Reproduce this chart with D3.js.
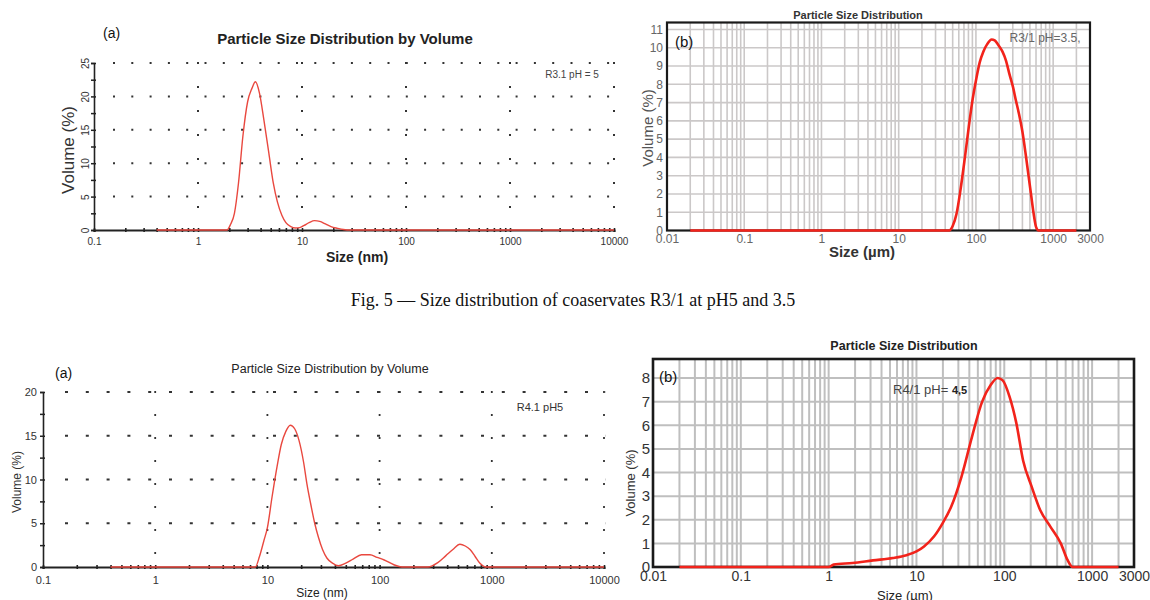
<!DOCTYPE html>
<html>
<head>
<meta charset="utf-8">
<script src="https://cdn.jsdelivr.net/npm/d3@7"></script>
<style>
  body { margin: 0; background: #fff; }
  svg { display: block; font-family: Arial, "Liberation Sans", sans-serif; }
</style>
</head>
<body>
<svg id="fig" width="1150" height="600"></svg>
<script>
// ---- data ----

// Fig 5 (a): R3.1 pH = 5, DLS volume distribution
const p1Size = [0.4, 1.9, 2.05, 2.24, 2.45, 2.7, 3.0, 3.3, 3.57, 3.9, 4.3, 4.8, 5.3, 5.8, 6.4, 7.0, 7.8, 8.6, 9.5, 10.5, 11.7, 13.2, 14.8, 16.8, 19, 22, 25, 29, 10000];
const p1Vol = [0, 0, 0.8, 2.5, 7, 14, 19.2, 21.2, 22.2, 20.5, 16.5, 11.5, 7, 4.2, 2.2, 1.1, 0.5, 0.3, 0.35, 0.7, 1.1, 1.4, 1.3, 0.9, 0.5, 0.25, 0.08, 0, 0];

// Fig 5 (b): R3/1 pH 3.5, laser diffraction
const p2Size = [0.02, 45, 50, 56, 63, 72, 81, 90, 100, 112, 125, 140, 160, 175, 195, 220, 245, 270, 300, 330, 360, 400, 440, 480, 520, 560, 600, 650, 2000];
const p2Vol = [0, 0, 0.25, 0.9, 2.2, 4.0, 5.7, 7.1, 8.2, 9.2, 9.8, 10.2, 10.45, 10.4, 10.15, 9.8, 9.3, 8.6, 7.9, 7.1, 6.4, 5.4, 4.2, 3.0, 1.9, 0.9, 0.2, 0, 0];

// Fig 6 (a): R4.1 pH5, DLS volume distribution
const p3Size = [0.4, 7.8, 8.5, 9.3, 10, 11, 12.2, 13.3, 14.6, 16, 17.5, 19.1, 21, 22.5, 24.5, 26.4, 28.5, 31, 34, 38, 43, 50, 58, 69, 82, 95, 110, 134, 158, 270, 330, 390, 450, 520, 580, 640, 710, 780, 885, 10000];
const p3Vol = [0, 0, 1.2, 3, 4.5, 8, 11.5, 14, 15.5, 16.2, 15.8, 14.5, 12, 9.5, 7, 5, 3.4, 2, 1, 0.45, 0.15, 0.45, 0.9, 1.4, 1.4, 1.1, 0.8, 0.26, 0, 0, 0.5, 1.3, 2.0, 2.6, 2.4, 2.0, 1.2, 0.45, 0, 0];

// Fig 6 (b): R4/1 pH 4,5, laser diffraction
const p4Size = [0.02, 1.0, 1.14, 1.87, 3.2, 5.4, 7.7, 10, 12.2, 15.9, 19.9, 24.9, 32.6, 42.8, 56, 70, 84, 96, 115, 137, 164, 205, 257, 336, 440, 525, 600, 2000];
const p4Vol = [0, 0, 0.1, 0.17, 0.28, 0.38, 0.5, 0.66, 0.87, 1.3, 1.86, 2.56, 3.83, 5.5, 7.0, 7.7, 8.0, 7.9, 7.2, 6.1, 4.5, 3.4, 2.4, 1.7, 1.0, 0.3, 0, 0];

// tick labels
const nmTicks = [0.1, 1, 10, 100, 1000, 10000];
const umTicks = [0.01, 0.1, 1, 10, 100, 1000, 3000];
const p1YTicks = [0, 5, 10, 15, 20, 25];
const p2YTicks = [0, 1, 2, 3, 4, 5, 6, 7, 8, 9, 10, 11];
const p3YTicks = [0, 5, 10, 15, 20];
const p4YTicks = [0, 1, 2, 3, 4, 5, 6, 7, 8];

const svg = d3.select('#fig');

// 1..9 x 10^k between lo and hi
function logSteps(lo, hi) {
  const out = [];
  for (let e = Math.floor(Math.log10(lo)); e <= Math.ceil(Math.log10(hi)); e += 1) {
    for (let m = 1; m < 10; m += 1) {
      const v = m * Math.pow(10, e);
      if (v >= lo * 0.9999 && v <= hi * 1.0001) out.push(v);
    }
  }
  return out;
}

function txt(g, str, x, y, size, opts = {}) {
  const t = g.append('text').attr('x', x).attr('y', y)
    .attr('font-size', size)
    .attr('fill', opts.fill || '#222')
    .attr('font-weight', opts.weight || 'normal')
    .attr('text-anchor', opts.anchor || 'start')
    .text(str);
  if (opts.rotate) t.attr('transform', `rotate(-90,${x},${y})`);
  return t;
}

// Malvern Zetasizer style panel (dotted grid, open axes)
function drawDls(o) {
  const g = svg.append('g');
  const yMax = o.yTicks[o.yTicks.length - 1];
  const x = d3.scaleLog().domain([nmTicks[0], nmTicks[nmTicks.length - 1]]).range([o.left, o.right]);
  const y = d3.scaleLinear().domain([0, yMax]).range([o.bottom, o.top]);

  g.append('g').selectAll('line').data(o.yTicks.slice(1)).join('line')
    .attr('x1', o.left + o.hStart).attr('x2', o.right + 2)
    .attr('y1', d => y(d)).attr('y2', d => y(d))
    .attr('stroke', '#333').attr('stroke-width', o.dotW)
    .attr('stroke-dasharray', o.hDash);
  g.append('g').selectAll('line').data(nmTicks.slice(1)).join('line')
    .attr('x1', d => x(d)).attr('x2', d => x(d))
    .attr('y1', o.top - 1).attr('y2', o.bottom - 6)
    .attr('stroke', '#333').attr('stroke-width', o.dotW)
    .attr('stroke-dasharray', o.vDash);

  const yAxis = g.append('g').attr('transform', `translate(${o.left},0)`)
    .call(d3.axisLeft(y).tickValues(d3.range(0, yMax + 0.1, 2.5)).tickSize(3)
      .tickFormat(d => (o.yTicks.includes(d) ? d : '')));
  yAxis.select('.domain').attr('stroke', '#222').attr('stroke-width', 1.6);
  yAxis.selectAll('.tick line').attr('x1', 2).attr('x2', -3).attr('stroke', '#222').attr('stroke-width', 1.5);
  yAxis.selectAll('text').attr('font-size', o.tickFont).attr('fill', '#333');
  if (o.rotYLabels) {
    yAxis.selectAll('text').attr('transform', 'rotate(-90)')
      .attr('x', 0).attr('y', -5).attr('dy', 0).attr('text-anchor', 'middle');
  }

  const xAxis = g.append('g').attr('transform', `translate(0,${o.bottom})`)
    .call(d3.axisBottom(x).tickValues(logSteps(nmTicks[0], nmTicks[nmTicks.length - 1])).tickSize(2)
      .tickFormat(d => (nmTicks.includes(d) ? String(d) : '')));
  xAxis.select('.domain').attr('stroke', '#222').attr('stroke-width', 2);
  xAxis.selectAll('.tick line').attr('y1', -2).attr('y2', 2).attr('stroke', '#222').attr('stroke-width', 1.6);
  xAxis.selectAll('text').attr('font-size', o.tickFont).attr('fill', '#333').attr('dy', o.xTickDy);

  const line = d3.line().x(d => x(d[0])).y(d => y(d[1])).curve(d3.curveMonotoneX);
  g.append('path').datum(d3.zip(o.size, o.vol)).attr('d', line)
    .attr('fill', 'none').attr('stroke', '#e9483f').attr('stroke-width', 1.4);
  return g;
}

// Mastersizer style panel (framed, full log grid)
function drawLd(o) {
  const g = svg.append('g');
  const yMax = o.yTicks[o.yTicks.length - 1];
  const x = d3.scaleLog().domain([umTicks[0], umTicks[umTicks.length - 1]]).range([o.left, o.right]);
  const y = d3.scaleLinear().domain([0, yMax]).range([o.bottom, o.yTop]);

  g.append('g').selectAll('line')
    .data(logSteps(umTicks[0], umTicks[umTicks.length - 1]).filter(v => v > 0.0101 && v < 2999))
    .join('line')
    .attr('x1', d => x(d)).attr('x2', d => x(d))
    .attr('y1', o.frameTop).attr('y2', o.bottom)
    .attr('stroke', o.gridColor).attr('stroke-width', o.gridW);
  g.append('g').selectAll('line').data(o.yTicks.slice(1)).join('line')
    .attr('x1', o.left).attr('x2', o.right)
    .attr('y1', d => y(d)).attr('y2', d => y(d))
    .attr('stroke', o.gridColor).attr('stroke-width', o.gridW);

  g.append('rect').attr('x', o.left).attr('y', o.frameTop)
    .attr('width', o.right - o.left).attr('height', o.bottom - o.frameTop)
    .attr('fill', 'none').attr('stroke', '#1a1a1a').attr('stroke-width', o.frameW);

  const yAxis = g.append('g').attr('transform', `translate(${o.left},0)`)
    .call(d3.axisLeft(y).tickValues(o.yTicks).tickSize(0).tickPadding(o.yPad));
  yAxis.select('.domain').remove();
  yAxis.selectAll('text').attr('font-size', o.yTickFont).attr('fill', o.tickColor);

  const xAxis = g.append('g').attr('transform', `translate(0,${o.bottom})`)
    .call(d3.axisBottom(x).tickValues(umTicks).tickSize(0).tickPadding(o.xPad)
      .tickFormat(d => String(d)));
  xAxis.select('.domain').remove();
  xAxis.selectAll('text').attr('font-size', o.xTickFont).attr('fill', o.tickColor);

  const line = d3.line().x(d => x(d[0])).y(d => y(d[1])).curve(d3.curveMonotoneX);
  g.append('path').datum(d3.zip(o.size, o.vol)).attr('d', line)
    .attr('fill', 'none').attr('stroke', '#f2231b').attr('stroke-width', 2.6)
    .attr('stroke-linejoin', 'round');
  return g;
}

// ---- Fig 5 (a) ----
const g1 = drawDls({
  size: p1Size, vol: p1Vol, yTicks: p1YTicks,
  left: 94, right: 614, top: 63, bottom: 230,
  hStart: 19, hDash: '2,16.3', vDash: '2,22', dotW: 2,
  tickFont: 10, rotYLabels: true, xTickDy: '0.95em'
});
txt(g1, '(a)', 103, 38, 14, { fill: '#111' });
txt(g1, 'Particle Size Distribution by Volume', 345, 44, 15, { weight: 'bold', anchor: 'middle' });
txt(g1, 'R3.1 pH = 5', 572, 78, 10, { fill: '#444', anchor: 'middle' });
txt(g1, 'Volume (%)', 74, 150, 17, { fill: '#333', anchor: 'middle', rotate: true });
txt(g1, 'Size (nm)', 357, 262, 14, { weight: 'bold', anchor: 'middle' });

// ---- Fig 5 (b) ----
const g2 = drawLd({
  size: p2Size, vol: p2Vol, yTicks: p2YTicks,
  left: 667, right: 1090, bottom: 230.5, yTop: 29.5, frameTop: 22.5,
  gridColor: '#cbc8c8', gridW: 1.6, frameW: 2.2,
  yPad: 4, xPad: 4, yTickFont: 12, xTickFont: 12, tickColor: '#666'
});
g2.append('rect').attr('x', 790).attr('y', 6).attr('width', 136).attr('height', 15).attr('fill', '#fff');
txt(g2, 'Particle Size Distribution', 858, 19, 11, { weight: 'bold', fill: '#333', anchor: 'middle' });
txt(g2, '(b)', 675, 47, 15, { fill: '#111' });
txt(g2, 'R3/1 pH=3.5,', 1045, 42, 12, { fill: '#666', anchor: 'middle' });
txt(g2, 'Volume (%)', 653, 128, 15, { fill: '#555', anchor: 'middle', rotate: true });
txt(g2, 'Size (µm)', 862, 257, 15, { weight: 'bold', fill: '#333', anchor: 'middle' });

// ---- caption ----
svg.append('text').attr('x', 573).attr('y', 306).attr('text-anchor', 'middle')
  .attr('font-family', '"Liberation Serif", "Times New Roman", serif').attr('font-size', 18)
  .attr('fill', '#111').text('Fig. 5 — Size distribution of coaservates R3/1 at pH5 and 3.5');

// ---- Fig 6 (a) ----
const g3 = drawDls({
  size: p3Size, vol: p3Vol, yTicks: p3YTicks,
  left: 43, right: 604, top: 392, bottom: 567,
  hStart: 22, hDash: '3,17.8', vDash: '2,21', dotW: 1.8,
  tickFont: 11, rotYLabels: false, xTickDy: '1.05em'
});
txt(g3, '(a)', 55, 378, 14, { fill: '#111' });
txt(g3, 'Particle Size Distribution by Volume', 330, 373, 12.5, { fill: '#222', anchor: 'middle' });
txt(g3, 'R4.1 pH5', 540, 411, 11, { fill: '#333', anchor: 'middle' });
txt(g3, 'Volume (%)', 21, 482, 12, { fill: '#333', anchor: 'middle', rotate: true });
txt(g3, 'Size (nm)', 322, 597, 12, { fill: '#222', anchor: 'middle' });

// ---- Fig 6 (b) ----
const g4 = drawLd({
  size: p4Size, vol: p4Vol, yTicks: p4YTicks,
  left: 653, right: 1134, bottom: 567, yTop: 378, frameTop: 359,
  gridColor: '#bfbfbf', gridW: 2, frameW: 2.6,
  yPad: 3, xPad: 4, yTickFont: 15, xTickFont: 14, tickColor: '#333'
});
txt(g4, 'Particle Size Distribution', 904, 350, 12.5, { weight: 'bold', fill: '#222', anchor: 'middle' });
txt(g4, '(b)', 659, 382, 15, { fill: '#111' });
const lab = txt(g4, 'R4/1 pH= ', 893, 394, 13, { fill: '#444' });
lab.append('tspan').attr('font-size', 11).attr('font-weight', 'bold').attr('fill', '#222').text('4,5');
txt(g4, 'Volume (%)', 635, 483, 13, { fill: '#333', anchor: 'middle', rotate: true });
txt(g4, 'Size (µm)', 905, 600, 13, { fill: '#222', anchor: 'middle' });
</script>
</body>
</html>
